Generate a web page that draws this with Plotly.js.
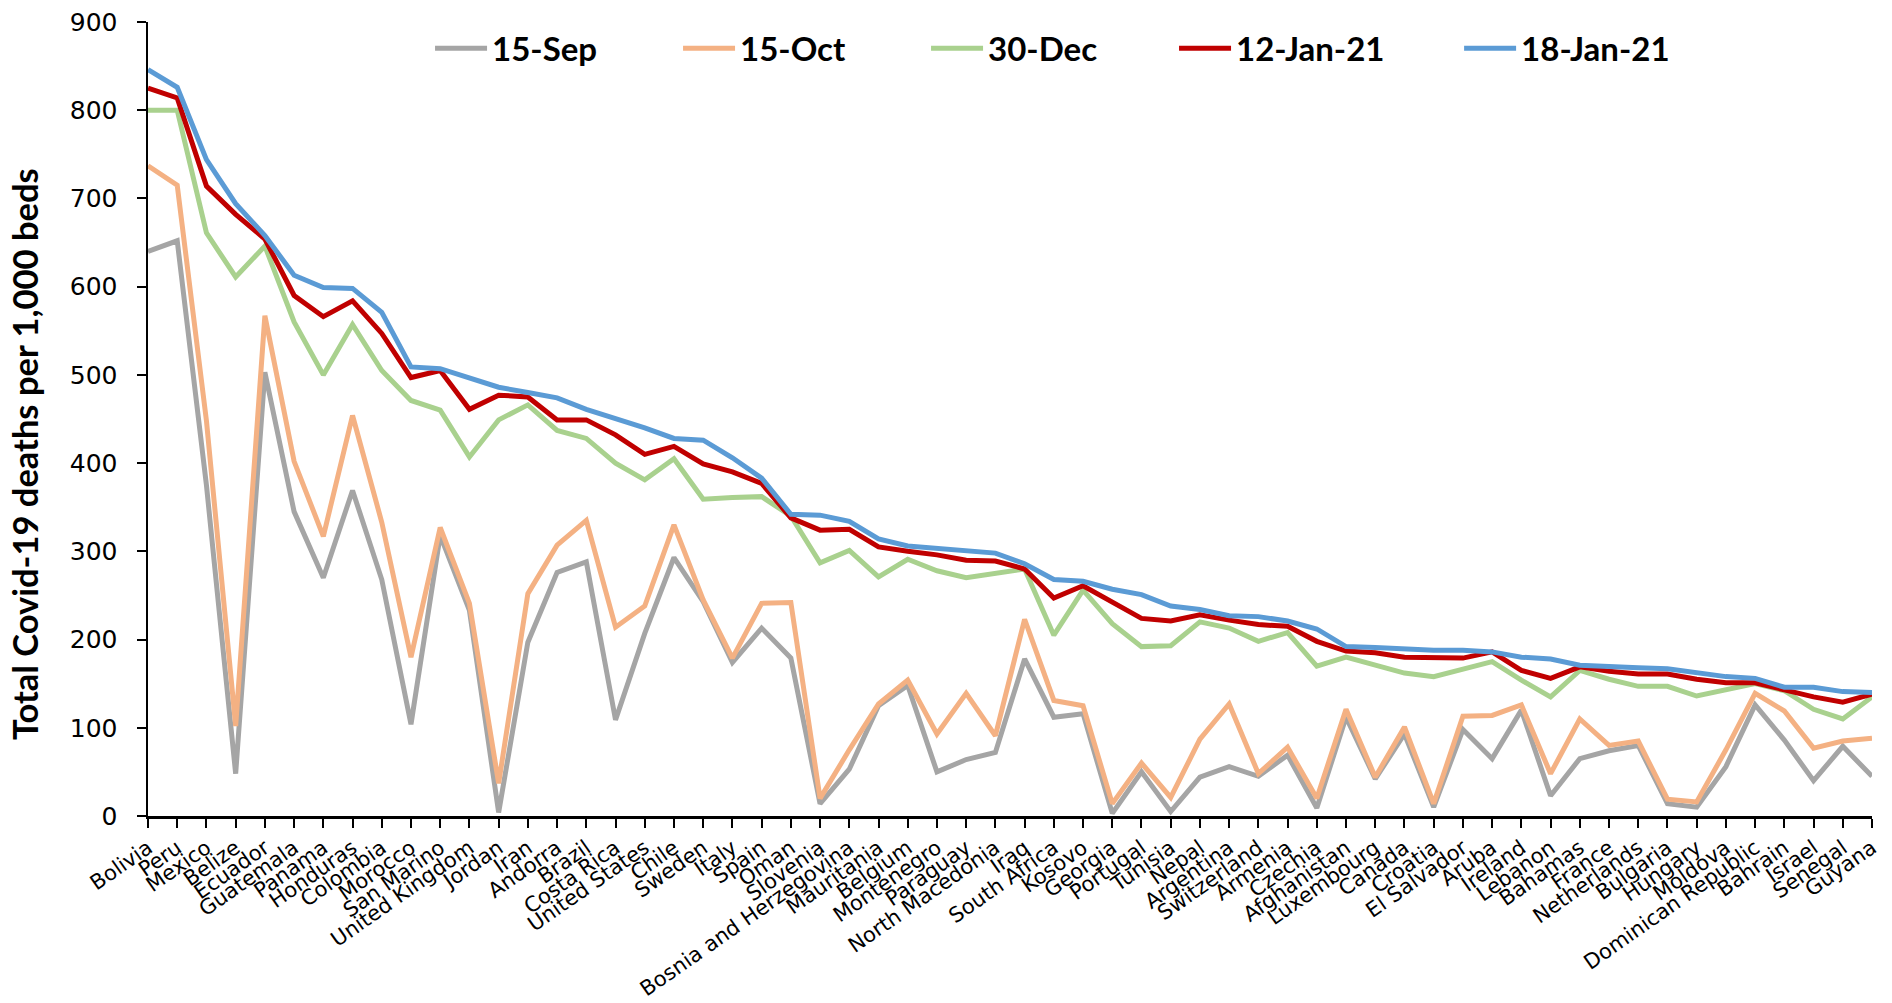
<!DOCTYPE html>
<html>
<head>
<meta charset="utf-8">
<script src="https://cdn.plot.ly/plotly-3.0.1.min.js"></script>
<style>
  html, body { margin: 0; padding: 0; background: #ffffff; }
  #chart { width: 1892px; height: 1003px; }
</style>
</head>
<body>
<div id="chart"></div>
<script>
const countries = ["Bolivia","Peru","Mexico","Belize","Ecuador","Guatemala","Panama","Honduras","Colombia","Morocco",
  "San Marino","United Kingdom","Jordan","Iran","Andorra","Brazil","Costa Rica","United States","Chile","Sweden",
  "Italy","Spain","Oman","Slovenia","Bosnia and Herzegovina","Mauritania","Belgium","Montenegro","Paraguay","North Macedonia",
  "Iraq","South Africa","Kosovo","Georgia","Portugal","Tunisia","Nepal","Argentina","Switzerland","Armenia",
  "Czechia","Afghanistan","Luxembourg","Canada","Croatia","El Salvador","Aruba","Ireland","Lebanon","Bahamas",
  "France","Netherlands","Bulgaria","Hungary","Moldova","Dominican Republic","Bahrain","Israel","Senegal","Guyana"];

const sep15 = [640,652,375,48,503,345,270,369,268,104,
  318,233,4,197,276,288,109,207,293,243,
  174,213,179,14,53,125,148,50,64,72,
  178,112,116,3,50,5,44,56,45,69,
  9,112,42,93,10,98,65,120,23,65,
  74,80,14,10,56,126,86,40,79,45];

const oct15 = [737,715,448,102,567,402,317,454,333,180,
  327,241,37,252,307,335,214,238,330,245,
  179,241,242,20,75,127,154,93,139,91,
  223,131,125,14,60,21,87,127,48,78,
  20,121,44,101,14,113,114,126,48,110,
  80,85,19,16,75,139,119,77,85,88];

const dec30 = [800,800,661,611,646,560,500,557,505,471,
  460,407,449,466,437,428,400,381,405,359,
  361,362,340,287,301,271,291,278,270,275,
  280,205,256,218,192,193,220,213,198,208,
  170,180,171,162,158,167,175,154,135,165,
  155,147,147,136,143,150,142,121,110,135];

const jan12 = [825,814,714,682,654,590,566,584,547,497,
  505,461,477,475,449,449,432,410,419,399,
  390,377,338,324,325,305,300,296,290,289,
  280,247,261,243,224,221,228,222,217,215,
  198,187,185,180,180,179,186,165,156,169,
  164,161,161,155,151,151,143,135,129,138];

const jan18 = [846,826,744,694,658,613,599,598,571,509,
  507,497,486,480,474,461,451,440,428,426,
  406,383,342,341,334,314,306,303,301,298,
  286,268,266,257,251,238,234,227,226,221,
  212,192,191,189,188,188,186,180,178,171,
  169,168,167,163,158,156,146,146,141,140];

const seriesNames = ["15-Sep","15-Oct","30-Dec","12-Jan-21","18-Jan-21"];
const seriesData = [sep15, oct15, dec30, jan12, jan18];
const seriesColors = ["#A5A5A5","#F4B183","#A9D18E","#C00000","#5B9BD5"];
const legendIds = ["legend","legend","legend","legend","legend2"];
const yTitle = "Total Covid-19 deaths per 1,000 beds";

const traces = seriesData.map((vals, i) => ({
  type: "scatter",
  mode: "lines",
  x: countries,
  y: vals,
  name: seriesNames[i],
  legend: legendIds[i],
  line: { color: seriesColors[i], width: 5 },
  hoverinfo: "x+y+name"
}));

const legendFont = { family: "Lato, 'Noto Sans', sans-serif", size: 33, color: "#000000", weight: "bold" };

const layout = {
  width: 1892,
  height: 1003,
  margin: { l: 148, r: 20, t: 22, b: 187 },
  paper_bgcolor: "#ffffff",
  plot_bgcolor: "#ffffff",
  showlegend: true,
  xaxis: {
    type: "category",
    range: [0, countries.length - 1],
    tickmode: "array",
    tickvals: countries,
    ticktext: countries,
    tickangle: -35,
    ticks: "outside",
    ticklen: 9,
    tickwidth: 2,
    tickcolor: "#000000",
    showline: true,
    linecolor: "#000000",
    linewidth: 2.5,
    showgrid: false,
    zeroline: false,
    tickfont: { family: "'DejaVu Sans', sans-serif", size: 21, color: "#000000" },
    automargin: false
  },
  yaxis: {
    range: [0, 900],
    tickmode: "linear",
    tick0: 0,
    dtick: 100,
    ticks: "outside",
    ticklen: 9,
    tickwidth: 2,
    tickcolor: "#000000",
    ticklabelstandoff: 14,
    showline: true,
    linecolor: "#000000",
    linewidth: 2.5,
    showgrid: false,
    zeroline: false,
    tickfont: { family: "'DejaVu Sans', sans-serif", size: 25, color: "#000000" },
    automargin: false
  },
  annotations: [{
    text: yTitle,
    xref: "paper",
    yref: "paper",
    x: -0.0715,
    y: 0.4555,
    xanchor: "center",
    yanchor: "middle",
    textangle: -90,
    showarrow: false,
    font: { family: "Lato, 'Noto Sans', sans-serif", size: 34.5, color: "#000000", weight: "bold" }
  }],
  legend: {
    orientation: "h",
    x: 0.1636,
    y: 0.967,
    xanchor: "left",
    yanchor: "middle",
    entrywidth: 181,
    entrywidthmode: "pixels",
    itemwidth: 52,
    bgcolor: "rgba(0,0,0,0)",
    font: legendFont,
    traceorder: "normal"
  },
  legend2: {
    orientation: "h",
    x: 0.7605,
    y: 0.967,
    xanchor: "left",
    yanchor: "middle",
    itemwidth: 52,
    bgcolor: "rgba(0,0,0,0)",
    font: legendFont
  }
};

Plotly.newPlot("chart", traces, layout, { displayModeBar: false, staticPlot: true });
</script>
</body>
</html>
